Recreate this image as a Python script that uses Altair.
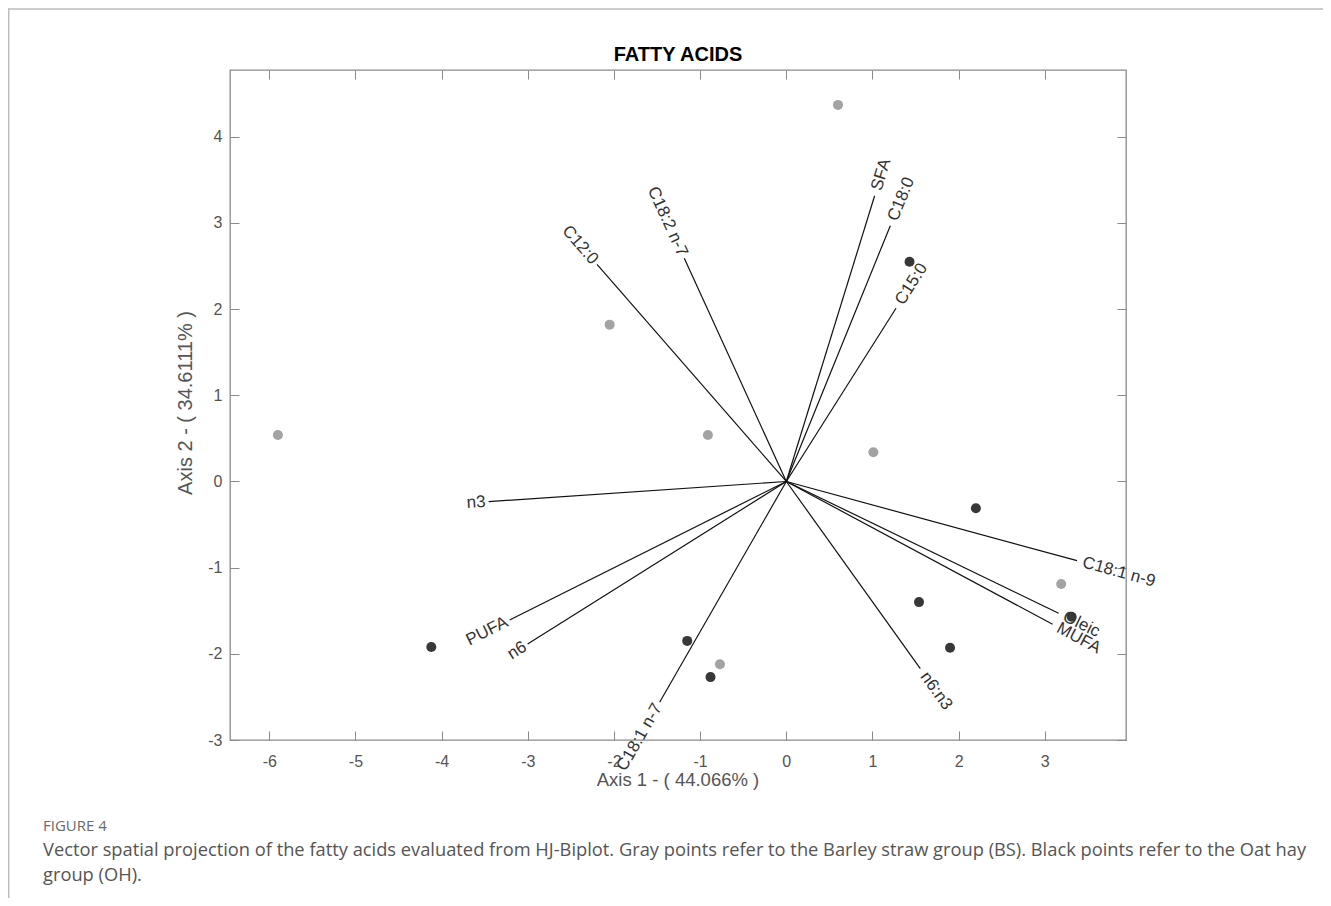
import math
import pandas as pd
import altair as alt

# ---- data ----
bs_x = [0.60, -2.05, -5.90, -0.91, 1.01, 3.19, -0.77]
bs_y = [4.37, 1.82, 0.54, 0.54, 0.34, -1.19, -2.12]
oh_x = [1.43, 2.20, 1.54, 1.90, 3.31, -4.12, -1.15, -0.88]
oh_y = [2.55, -0.31, -1.40, -1.93, -1.57, -1.92, -1.85, -2.27]

vec_names = ["SFA", "C18:0", "C15:0", "C18:2 n-7", "C12:0", "n3", "PUFA", "n6",
             "C18:1 n-7", "n6:n3", "C18:1 n-9", "Oleic", "MUFA"]
vec_x = [1.025, 1.207, 1.273, -1.184, -2.197, -3.455, -3.211, -3.002,
         -1.470, 1.555, 3.374, 3.160, 3.090]
vec_y = [3.316, 2.968, 2.010, 2.590, 2.520, -0.234, -1.607, -1.885,
         -2.562, -2.172, -0.919, -1.529, -1.657]

x_ticks = [-6, -5, -4, -3, -2, -1, 0, 1, 2, 3]
y_ticks = [-3, -2, -1, 0, 1, 2, 3, 4]

title_text = "FATTY ACIDS"
x_title = "Axis 1 - ( 44.066% )"
y_title = "Axis 2 - ( 34.6111% )"
fig_label = "FIGURE 4"
caption_1 = ("Vector spatial projection of the fatty acids evaluated from HJ-Biplot. "
             "Gray points refer to the Barley straw group (BS). Black points refer to the Oat hay")
caption_2 = "group (OH)."

# ---- tables ----
pts = pd.DataFrame({
    "x": bs_x + oh_x,
    "y": bs_y + oh_y,
    "group": ["BS"] * len(bs_x) + ["OH"] * len(oh_x),
})

angles = []
sides = []
for vx, vy in zip(vec_x, vec_y):
    if vx >= 0:
        a = -math.degrees(math.atan2(vy, vx))
        sides.append("R")
    else:
        a = -math.degrees(math.atan2(-vy, -vx))
        sides.append("L")
    angles.append(a % 360)

vecs = pd.DataFrame({
    "name": vec_names, "x": vec_x, "y": vec_y,
    "x0": [0.0] * len(vec_x), "y0": [0.0] * len(vec_x),
    "ang": angles, "side": sides,
})

FONT = "Liberation Sans"
GRAY = "#8a8a8a"
xs = alt.Scale(domain=[-6.456, 3.942], nice=False, zero=False)
ys = alt.Scale(domain=[-3.0, 4.775], nice=False, zero=False)

common_axis = dict(domain=False, offset=-9, tickSize=9, tickColor=GRAY, tickWidth=1,
                   grid=False, title=None, labelFlush=False, labelOverlap=False)
lab_expr = "'' + datum.value"

ax_bottom = alt.Axis(orient="bottom", values=x_ticks, labelExpr=lab_expr, labelColor="#555555",
                     labelFont=FONT, labelFontSize=16, labelPadding=13, **common_axis)
ax_left = alt.Axis(orient="left", values=y_ticks, labelExpr=lab_expr, labelColor="#555555",
                   labelFont=FONT, labelFontSize=16, labelPadding=8, **common_axis)
ax_top = alt.Axis(orient="top", values=x_ticks, labels=False, **common_axis)
ax_right = alt.Axis(orient="right", values=y_ticks, labels=False, **common_axis)

points = alt.Chart(pts).mark_point(filled=True, shape="circle", size=100, opacity=1).encode(
    x=alt.X("x:Q", scale=xs, axis=ax_bottom),
    y=alt.Y("y:Q", scale=ys, axis=ax_left),
    color=alt.Color("group:N", scale=alt.Scale(domain=["BS", "OH"],
                                               range=["#a3a3a3", "#383838"]), legend=None),
)

rules = alt.Chart(vecs).mark_rule(color="#111111", strokeWidth=1.2).encode(
    x=alt.X("x:Q", scale=xs, axis=ax_top),
    y=alt.Y("y:Q", scale=ys, axis=ax_right),
    x2="x0:Q",
    y2="y0:Q",
)

lab_r = alt.Chart(vecs).transform_filter(alt.datum.side == "R").mark_text(
    align="left", baseline="middle", dx=6, font=FONT, fontSize=17, color="#333333"
).encode(
    x=alt.X("x:Q", scale=xs, axis=None),
    y=alt.Y("y:Q", scale=ys, axis=None),
    angle=alt.Angle("ang:Q", scale=None),
    text="name:N",
)

lab_l = alt.Chart(vecs).transform_filter(alt.datum.side == "L").mark_text(
    align="right", baseline="middle", dx=-3, font=FONT, fontSize=17, color="#333333"
).encode(
    x=alt.X("x:Q", scale=xs, axis=None),
    y=alt.Y("y:Q", scale=ys, axis=None),
    angle=alt.Angle("ang:Q", scale=None),
    text="name:N",
)

one = pd.DataFrame({"t": [title_text]})
title = alt.Chart(one).mark_text(font=FONT, fontSize=20, fontWeight="bold", color="#000000",
                                 baseline="middle").encode(
    x=alt.value(448), y=alt.value(-15), text="t:N")

xt = alt.Chart(pd.DataFrame({"t": [x_title]})).mark_text(
    font=FONT, fontSize=18.5, color="#555555", baseline="middle").encode(
    x=alt.value(448), y=alt.value(710), text="t:N")

yt = alt.Chart(pd.DataFrame({"t": [y_title]})).mark_text(
    font=FONT, fontSize=20, color="#555555", baseline="middle", angle=270).encode(
    x=alt.value(-44), y=alt.value(333), text="t:N")

figl = alt.Chart(pd.DataFrame({"t": [fig_label]})).mark_text(
    font="Open Sans", fontSize=15, color="#6a6a6a", align="left", baseline="middle").encode(
    x=alt.value(-187), y=alt.value(756), text="t:N")

cap1 = alt.Chart(pd.DataFrame({"t": [caption_1]})).mark_text(
    font="Open Sans", fontSize=18.3, color="#555555", align="left", baseline="middle").encode(
    x=alt.value(-187), y=alt.value(781), text="t:N")

cap2 = alt.Chart(pd.DataFrame({"t": [caption_2]})).mark_text(
    font="Open Sans", fontSize=18.3, color="#555555", align="left", baseline="middle").encode(
    x=alt.value(-187), y=alt.value(806), text="t:N")

border_df = pd.DataFrame({"a": [0]})
border_left = alt.Chart(border_df).mark_rule(color="#bdbdbd", strokeWidth=1.5).encode(
    x=alt.value(-221.3), y=alt.value(-61.5), y2=alt.value(830))
border_top = alt.Chart(border_df).mark_rule(color="#bdbdbd", strokeWidth=1.5).encode(
    x=alt.value(-222), x2=alt.value(1095), y=alt.value(-61))

chart = alt.layer(
    points, rules, lab_r, lab_l, title, xt, yt, figl, cap1, cap2, border_left, border_top
).resolve_axis(x="independent", y="independent").properties(
    width=896, height=670,
    padding={"left": 222, "top": 62, "right": 197, "bottom": 158},
    autosize=alt.AutoSizeParams(type="none"),
).configure_view(stroke=GRAY, strokeWidth=1.3)

chart.save("out.html", embed_options={"renderer": "svg", "actions": False})
